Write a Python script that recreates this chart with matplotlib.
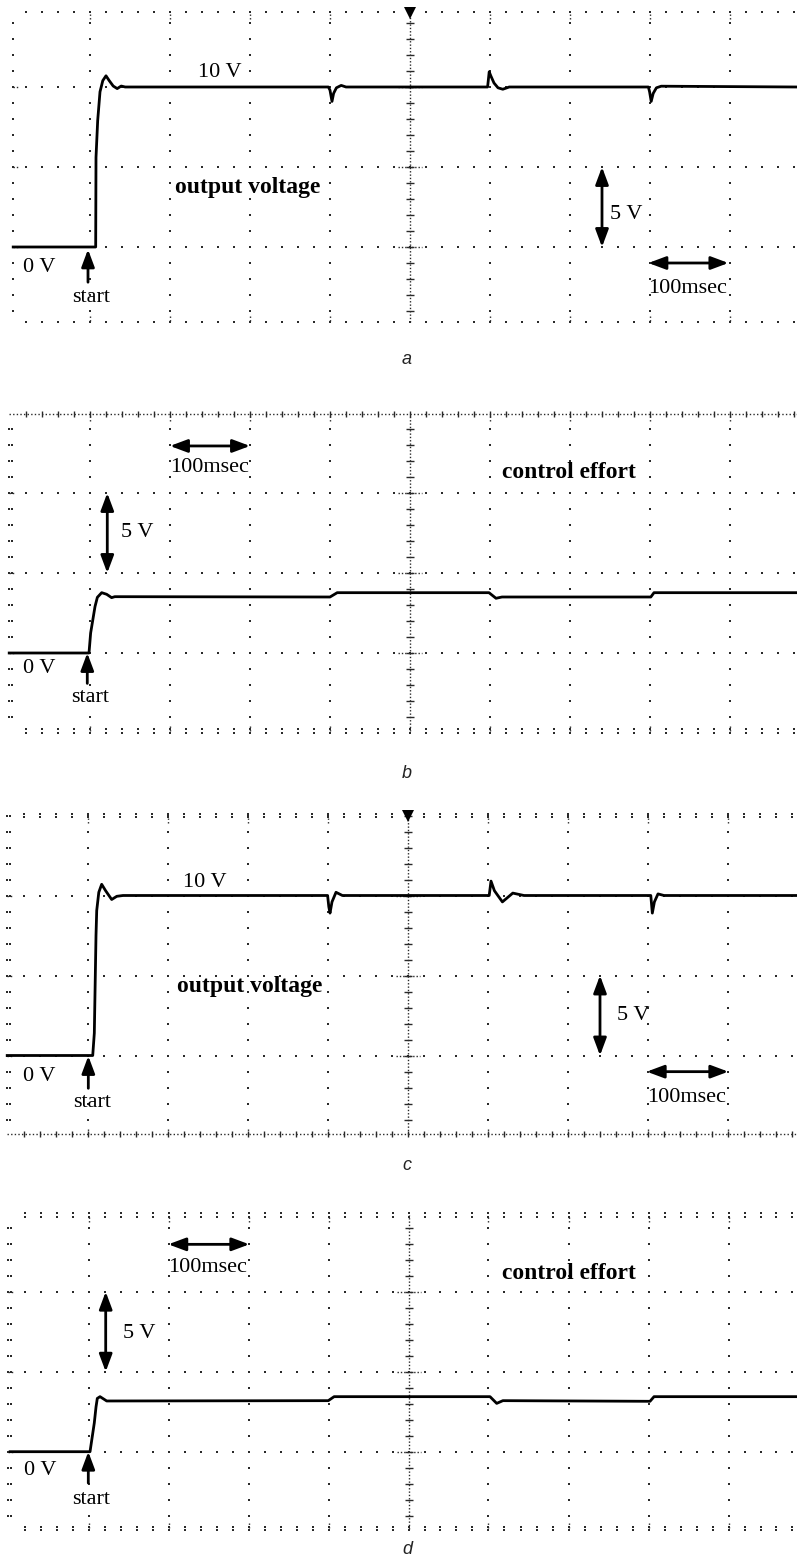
import matplotlib
matplotlib.use("Agg")
import matplotlib.pyplot as plt
from matplotlib.patches import ArrowStyle
import numpy as np

# ---------------- data (time in ms, voltage in V) ----------------
# panel a : output voltage
t_a = [-96, 7.1, 7.5, 9.6, 12.5, 16, 20, 24, 29, 34, 39, 44,
       298, 300, 302.5, 304.5, 308, 314, 320,
       497, 499, 501, 505, 510, 516, 524, 532,
       698, 699.5, 701.5, 704, 708, 714, 884]
v_a = [0, 0, 5.6, 7.9, 9.7, 10.4, 10.7, 10.4, 10.06, 9.9, 10.06, 10.0,
       10.0, 9.8, 9.1, 9.6, 9.95, 10.1, 10.0,
       10.0, 10.95, 10.7, 10.25, 9.95, 9.86, 10.0, 10.0,
       10.0, 9.7, 9.1, 9.6, 9.95, 10.05, 10.0]

# panel b : control effort
t_b = [-101, -1.25, 0.8, 6.25, 9.2, 14.6, 20.8, 27, 31,
       300, 309, 498.75, 507.5, 515, 701, 705, 884]
v_b = [0, 0, 1.25, 2.9, 3.48, 3.77, 3.67, 3.46, 3.52,
       3.5, 3.77, 3.77, 3.42, 3.5, 3.5, 3.77, 3.77]

# panel c : output voltage
t_c = [-101, 5.9, 7.9, 10, 10.9, 13.5, 17.1, 22, 29.6, 36, 43.75,
       299.5, 301, 302.5, 305, 310, 318,
       501.5, 503.75, 508, 518, 531, 545,
       703.5, 705.4, 708, 712.5, 720, 886]
v_c = [0, 0, 1.4, 7.5, 9.06, 10.2, 10.7, 10.3, 9.75, 9.95, 10.0,
       10.0, 9.3, 8.9, 9.6, 10.2, 10.0,
       10.0, 10.9, 10.3, 9.6, 10.15, 10.0,
       10.0, 8.9, 9.6, 10.1, 10.0, 10.0]

# panel d : control effort
t_d = [-98, 1.9, 7.25, 9.4, 11, 14.4, 22.75, 299.75, 307,
       501.9, 510.25, 518, 701.9, 706.9, 886]
v_d = [0, 0, 1.8, 2.8, 3.33, 3.44, 3.17, 3.19, 3.44,
       3.44, 3.02, 3.19, 3.15, 3.44, 3.44]

captions = ["a", "b", "c", "d"]
signal_labels = ["output voltage", "control effort", "output voltage", "control effort"]

# ---------------- layout ----------------
W, H = 797, 1557
PX_PER_MS = 0.8
PX_PER_V = 16.0
INK = "#2a2a2a"
SERIF = ["Liberation Serif", "DejaVu Serif"]

fig = plt.figure(figsize=(W / 100, H / 100), dpi=100)
fig.patch.set_facecolor("white")

panels = [
    dict(t=t_a, v=v_a, x0=90.0, y0=247.0, left=-96.25, top=14.69, bottom=-4.69,
         top_style="dots", bottom_style="dots", left_style="single", trig=True),
    dict(t=t_b, v=v_b, x0=90.0, y0=653.0, left=-101, top=14.94, bottom=-4.9,
         top_style="ruler", bottom_style="pairs", left_style="double", trig=False),
    dict(t=t_c, v=v_c, x0=88.0, y0=1055.5, left=-101, top=15.0, bottom=-4.93,
         top_style="pairs", bottom_style="ruler", left_style="double", trig=True),
    dict(t=t_d, v=v_d, x0=88.5, y0=1451.7, left=-100.5, top=14.8, bottom=-4.8,
         top_style="pairs", bottom_style="pairs", left_style="double", trig=False),
]

def make_axes(p):
    ax = fig.add_axes([0, 1 - (p["y0"] + 100) / H, 1, 360 / H])
    ax.set_xlim((0 - p["x0"]) / PX_PER_MS, (W - p["x0"]) / PX_PER_MS)
    ax.set_ylim(-100 / PX_PER_V, 260 / PX_PER_V)
    ax.axis("off")
    return ax

def dots(ax, x, y, ms=1.5):
    ax.plot(x, y, ls="none", marker="s", ms=ms, color=INK, mew=0, zorder=1)

def graticule(ax, p):
    xr = ax.get_xlim()[1]
    L, T, B = p["left"], p["top"], p["bottom"]
    vy = np.arange(np.ceil(B), np.floor(T) + 1)
    # vertical major lines
    for k in [0, 100, 200, 300, 500, 600, 700, 800]:
        dots(ax, np.full(vy.shape, k), vy)
        ax.plot([k, k], [T - 0.45, T - 0.05], ls=(0, (1, 1.6)), lw=1.0, color=INK, zorder=1)
        ax.plot([k, k], [B + 0.05, B + 0.45], ls=(0, (1, 1.6)), lw=1.0, color=INK, zorder=1)
    # horizontal major lines
    hx = np.arange(-80, xr, 20)
    for v in [0, 5, 10]:
        dots(ax, hx, np.full(hx.shape, v))
        ax.plot([L, L + 6], [v, v], ls=(0, (1, 1.4)), lw=1.0, color=INK, zorder=1)
        ax.plot([385, 415], [v, v], ls=(0, (1, 1.4)), lw=1.0, color=INK, zorder=1)
    # centre axis with ticks
    ax.plot([400, 400], [B, T], ls=(0, (1, 1.4)), lw=1.0, color=INK, zorder=1)
    ax.plot(np.full(vy.shape, 400), vy, ls="none", marker="_", ms=6, mew=1.0, color=INK, zorder=1)
    # left border
    dots(ax, np.full(vy.shape, L), vy)
    if p["left_style"] == "double":
        dots(ax, np.full(vy.shape, L + 3.5), vy)
    # top / bottom borders
    bx = np.arange(-80, xr, 20)
    for yb, style in [(T, p["top_style"]), (B, p["bottom_style"])]:
        if style == "dots":
            dots(ax, bx, np.full(bx.shape, yb))
        elif style == "pairs":
            dots(ax, bx, np.full(bx.shape, yb + 0.12))
            dots(ax, bx, np.full(bx.shape, yb - 0.12))
        else:  # ruler
            ax.plot([L, xr], [yb, yb], ls=(0, (1, 1.6)), lw=1.0, color=INK, zorder=1)
            ax.plot(bx, np.full(bx.shape, yb), ls="none", marker="|", ms=5, mew=1.0,
                    color=INK, zorder=1)
    if p["trig"]:
        ax.plot([400], [T - 0.05], marker="v", ms=8, color="black", mew=0, zorder=3)

def dbl_arrow(ax, a, b):
    ax.annotate("", xy=b, xytext=a,
                arrowprops=dict(arrowstyle=ArrowStyle("<|-|>", head_length=0.75, head_width=0.28),
                                lw=2, color="black", mutation_scale=14,
                                shrinkA=0, shrinkB=0), zorder=4)

def up_arrow(ax, tail, head):
    ax.annotate("", xy=head, xytext=tail,
                arrowprops=dict(arrowstyle=ArrowStyle("-|>", head_length=0.75, head_width=0.28),
                                lw=2, color="black", mutation_scale=14,
                                shrinkA=0, shrinkB=0), zorder=4)

def txt(ax, x, y, s, bold=False):
    ax.text(x, y, s, family=SERIF, fontsize=17 if bold else 16,
            fontweight="bold" if bold else "normal", ha="left", va="baseline",
            color="black", zorder=5)

axes = []
for p in panels:
    ax = make_axes(p)
    graticule(ax, p)
    ax.plot(p["t"], p["v"], color="black", lw=2.0, solid_joinstyle="round", zorder=3)
    axes.append(ax)

# ---- annotations panel a ----
ax = axes[0]
txt(ax, 135, 10.62, "10 V")
txt(ax, 106, 3.39, signal_labels[0], bold=True)
txt(ax, -84, -1.56, "0 V")
txt(ax, -22.5, -3.44, "start")
up_arrow(ax, (-2.5, -2.2), (-2.5, -0.15))
dbl_arrow(ax, (640, 0), (640, 5))
txt(ax, 650, 1.75, "5 V")
dbl_arrow(ax, (698, -1), (798, -1))
txt(ax, 697.5, -2.88, "100msec")

# ---- annotations panel b ----
ax = axes[1]
dbl_arrow(ax, (100, 12.94), (200, 12.94))
txt(ax, 100, 11.33, "100msec")
dbl_arrow(ax, (21.6, 5), (21.6, 10))
txt(ax, 38.4, 7.27, "5 V")
txt(ax, -84, -1.23, "0 V")
txt(ax, -24, -3.04, "start")
up_arrow(ax, (-3.4, -1.9), (-3.4, 0))
txt(ax, 514.6, 10.92, signal_labels[1], bold=True)

# ---- annotations panel c ----
ax = axes[2]
txt(ax, 118.4, 10.51, "10 V")
txt(ax, 111.6, 3.99, signal_labels[2], bold=True)
txt(ax, -81, -1.58, "0 V")
txt(ax, -18.4, -3.24, "start")
up_arrow(ax, (0.4, -2.05), (0.4, -0.03))
dbl_arrow(ax, (640, 0), (640, 5))
txt(ax, 661.6, 2.22, "5 V")
dbl_arrow(ax, (698.4, -1.01), (800.4, -1.01))
txt(ax, 698.4, -2.89, "100msec")

# ---- annotations panel d ----
ax = axes[3]
dbl_arrow(ax, (99.75, 12.96), (201, 12.96))
txt(ax, 99.75, 11.25, "100msec")
dbl_arrow(ax, (21.5, 5), (21.5, 10))
txt(ax, 42.75, 7.09, "5 V")
txt(ax, -80.25, -1.46, "0 V")
txt(ax, -20.25, -3.27, "start")
up_arrow(ax, (-0.25, -1.96), (-0.25, 0))
txt(ax, 516.5, 10.78, signal_labels[3], bold=True)

# captions
for cap, ypx in zip(captions, [360, 773, 1165, 1550]):
    fig.text(407 / W, 1 - ypx / H, cap, family=["Liberation Sans", "DejaVu Sans"],
             style="italic", fontsize=13, ha="center", va="center", color="#222222")

fig.savefig("out.png", dpi=100, facecolor="white")
